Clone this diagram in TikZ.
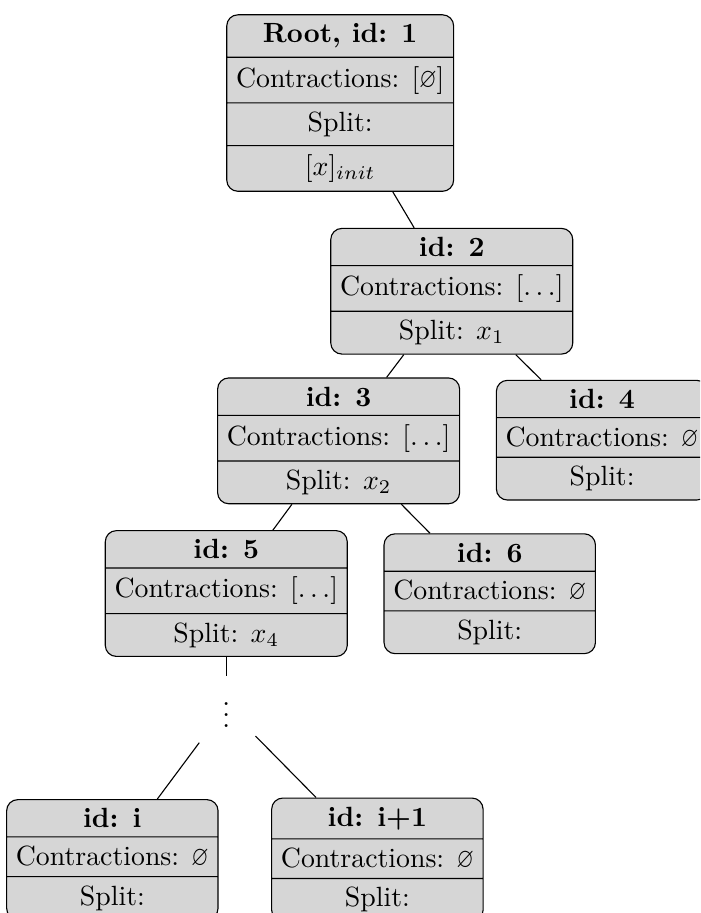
\documentclass[tikz,border=0pt]{standalone}
\usepackage{amsmath}
\usepackage{amssymb}
\usepackage{tikz}
\usetikzlibrary{shapes.multipart}

\newcommand{\noset}{\scalebox{0.8}[1]{$\varnothing$}}

\begin{document}
\begin{tikzpicture}[
		searchnode/.style={rectangle split, rectangle split parts=3, rectangle split draw splits=true,
			draw, rounded corners, fill=gray!32, anchor=north, inner ysep=3pt},
	]
	\useasboundingbox (0,0) rectangle (8.85,-11.54);
	\clip (0,0) rectangle (8.85,-11.54);

	\node (N1) [searchnode, rectangle split parts=4] at (4.30,-0.18) {\textbf{Root, id: 1}
		\nodepart{two}Contractions: $[$\noset$]$
		\nodepart{three}Split:
		\nodepart{four}$[x]_{init}$};

	\node (N2) [searchnode] at (5.71,-2.88) {\textbf{id: 2}
		\nodepart{two}Contractions: $[\ldots]$
		\nodepart{three}Split: $x_1$};

	\node (N3) [searchnode] at (4.28,-4.77) {\textbf{id: 3}
		\nodepart{two}Contractions: $[\ldots]$
		\nodepart{three}Split: $x_2$};
	\node (N4) [searchnode] at (7.61,-4.80) {\textbf{id: 4}
		\nodepart{two}Contractions: \noset
		\nodepart{three}Split:};

	\node (N5) [searchnode] at (2.86,-6.70) {\textbf{id: 5}
		\nodepart{two}Contractions: $[\ldots]$
		\nodepart{three}Split: $x_4$};
	\node (N6) [searchnode] at (6.19,-6.74) {\textbf{id: 6}
		\nodepart{two}Contractions: \noset
		\nodepart{three}Split:};

	% the rest of the tree is left out
	\node (dots) [anchor=north] at (2.86,-8.54) {$\vdots$};

	\node (Ni) [searchnode] at (1.42,-10.10) {\textbf{id: i}
		\nodepart{two}Contractions: \noset
		\nodepart{three}Split:};
	\node (Ni1) [searchnode] at (4.77,-10.08) {\textbf{id: i+1}
		\nodepart{two}Contractions: \noset
		\nodepart{three}Split:};

	\draw (N1) -- (N2);
	\draw (N2) -- (N3);
	\draw (N2) -- (N4);
	\draw (N3) -- (N5);
	\draw (N3) -- (N6);
	\draw (N5) -- (dots);
	\draw [shorten <=8pt] (dots) -- (Ni);
	\draw [shorten <=8pt] (dots) -- (Ni1);
\end{tikzpicture}
\end{document}
